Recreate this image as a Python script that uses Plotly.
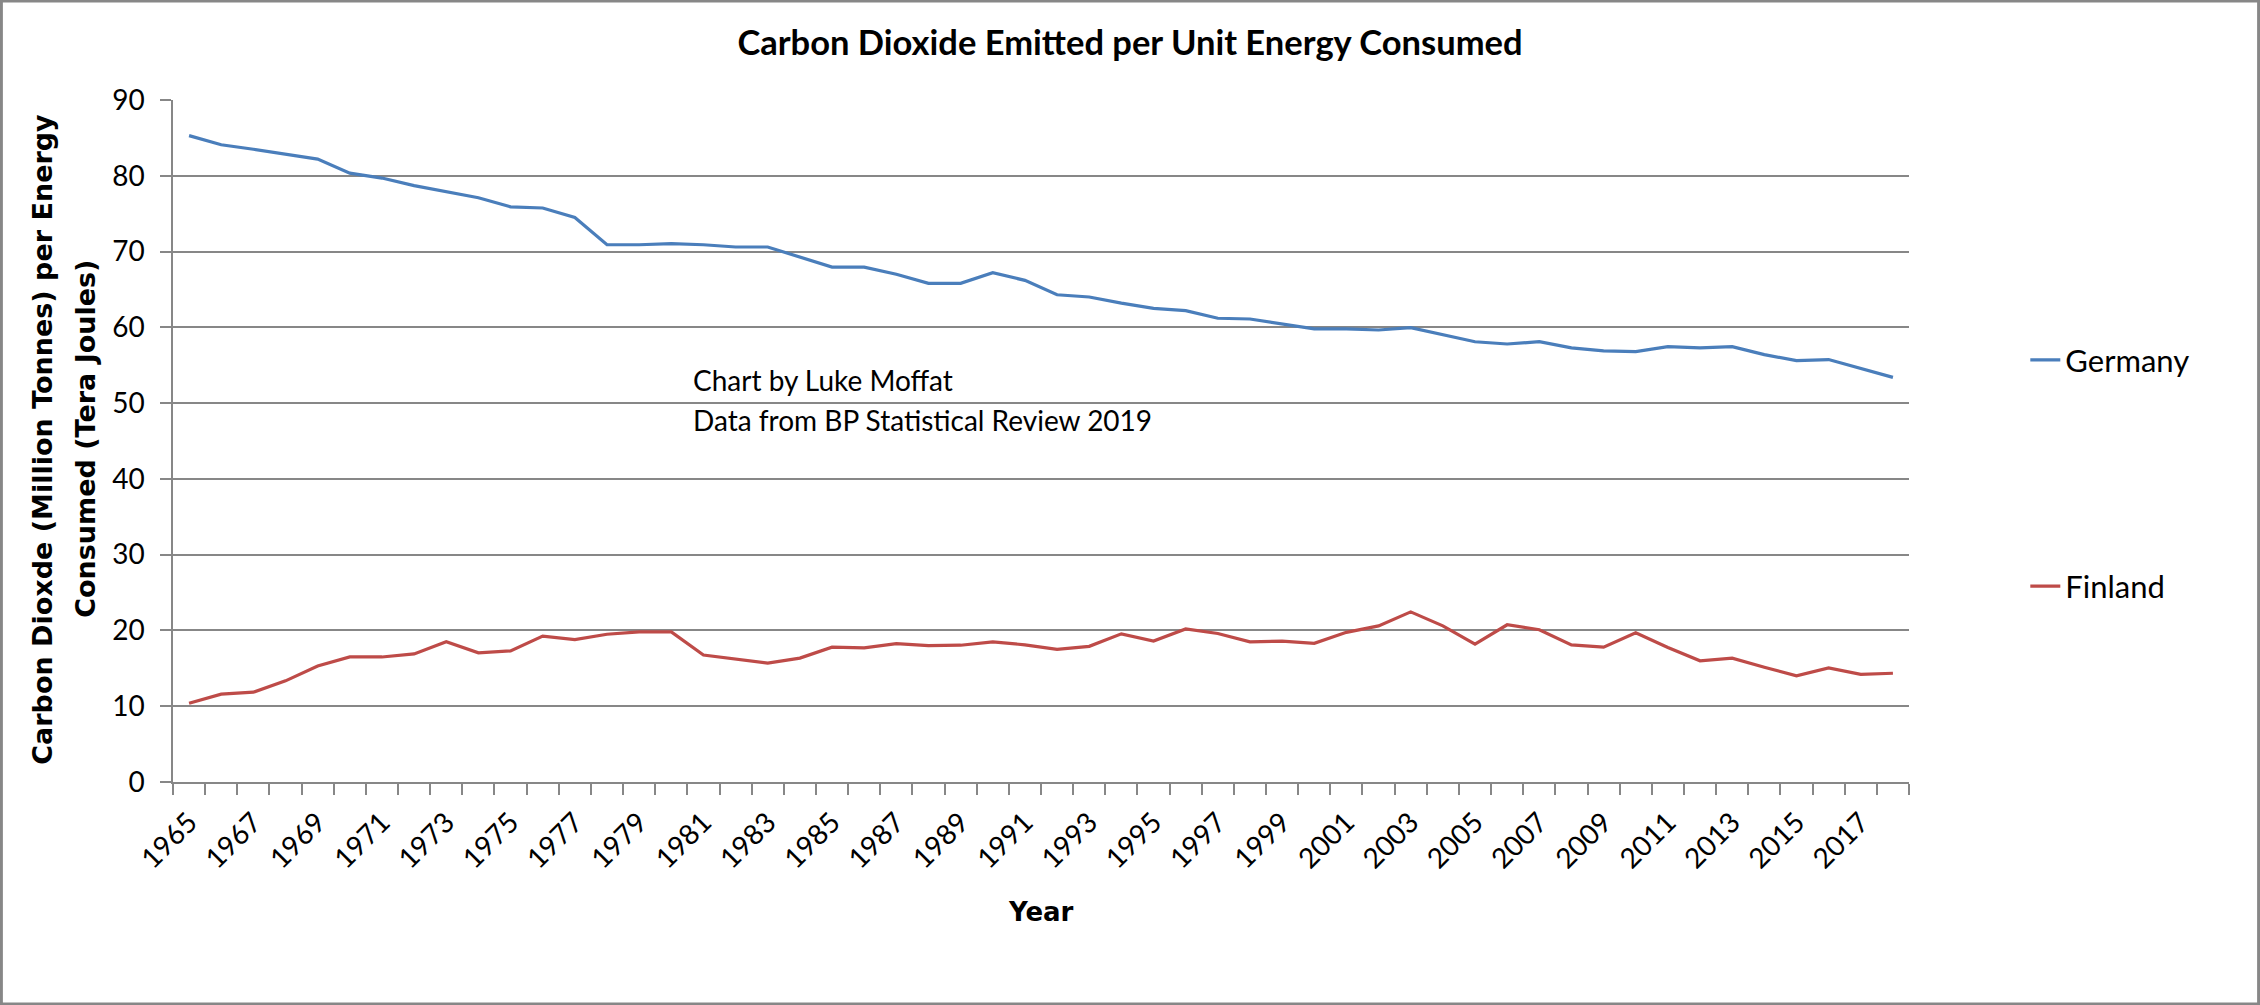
# -*- coding: utf-8 -*-
import plotly.graph_objects as go

years = [1965, 1966, 1967, 1968, 1969, 1970, 1971, 1972, 1973, 1974,
         1975, 1976, 1977, 1978, 1979, 1980, 1981, 1982, 1983, 1984,
         1985, 1986, 1987, 1988, 1989, 1990, 1991, 1992, 1993, 1994,
         1995, 1996, 1997, 1998, 1999, 2000, 2001, 2002, 2003, 2004,
         2005, 2006, 2007, 2008, 2009, 2010, 2011, 2012, 2013, 2014,
         2015, 2016, 2017, 2018]

germany = [85.3, 84.1, 83.5, 82.8, 82.2, 80.35, 79.7, 78.7, 77.85, 77.1,
           75.9, 75.75, 74.5, 70.9, 70.9, 71.05, 70.9, 70.6, 70.6, 69.3,
           67.95, 67.95, 67.0, 65.8, 65.8, 67.2, 66.2, 64.3, 64.0, 63.2,
           62.5, 62.2, 61.2, 61.1, 60.4, 59.8, 59.8, 59.65, 59.95, 59.0,
           58.1, 57.8, 58.1, 57.3, 56.9, 56.8, 57.45, 57.3, 57.45, 56.4,
           55.6, 55.75, 54.55, 53.4]

finland = [10.4, 11.6, 11.85, 13.35, 15.3, 16.5, 16.5, 16.9, 18.5, 17.05,
           17.3, 19.25, 18.8, 19.5, 19.8, 19.8, 16.75, 16.25, 15.7, 16.35,
           17.8, 17.7, 18.25, 18.0, 18.05, 18.5, 18.1, 17.5, 17.9, 19.55,
           18.6, 20.2, 19.6, 18.5, 18.6, 18.3, 19.75, 20.6, 22.45, 20.6,
           18.2, 20.75, 20.1, 18.1, 17.8, 19.7, 17.75, 16.0, 16.35, 15.15,
           14.0, 15.05, 14.2, 14.35]

title_text = 'Carbon Dioxide Emitted per Unit Energy Consumed'
y_title_lines = ['Carbon Dioxde (Million Tonnes) per Energy', 'Consumed (Tera Joules)']
x_title = 'Year'
credit_lines = ['Chart by Luke Moffat', 'Data from BP Statistical Review 2019']

GRID = '#878787'
BODY_FONT = 'Lato, Calibri, sans-serif'
AXIS_FONT = 'DejaVu Sans, Verdana, sans-serif'


def main():
    fig = go.Figure()
    fig.add_trace(go.Scatter(x=years, y=germany, name='Germany', mode='lines',
                             line=dict(color='#4A7EBB', width=3.2), legendgroup='g1'))
    fig.add_trace(go.Scatter(x=years, y=finland, name='Finland', mode='lines',
                             line=dict(color='#BE4B48', width=3.2), legendgroup='g2'))

    fig.update_layout(
        width=2260, height=1005,
        margin=dict(l=173, r=351, t=100, b=223),
        paper_bgcolor='white', plot_bgcolor='white',
        font=dict(family=BODY_FONT, size=28, color='black'),
        title=dict(text='<b>%s</b>' % title_text, x=0.5, xref='container', xanchor='center',
                   y=0.957, yref='container', yanchor='middle',
                   font=dict(family=BODY_FONT, size=34.5, color='black')),
        legend=dict(x=1.067, y=0.658, xanchor='left', yanchor='top',
                    tracegroupgap=183, font=dict(size=31), bgcolor='rgba(0,0,0,0)'),
        showlegend=True,
    )

    fig.update_xaxes(
        range=[1964.5, 2018.5], tickmode='linear', tick0=1965, dtick=2,
        tickangle=-45, ticks='outside', ticklen=11, tickcolor='rgba(0,0,0,0)',
        tickfont=dict(family=BODY_FONT, size=28),
        showgrid=False, zeroline=False,
        showline=True, linecolor=GRID, linewidth=1.5,
        minor=dict(tick0=1964.5, dtick=1, ticks='outside', ticklen=11,
                   tickcolor=GRID, tickwidth=1.5, showgrid=False),
    )
    fig.update_yaxes(
        range=[0, 90], tickmode='linear', tick0=0, dtick=10,
        ticks='outside', ticklen=11, tickcolor=GRID, tickwidth=1.5,
        ticklabelstandoff=10, tickfont=dict(family=BODY_FONT, size=28),
        showgrid=True, gridcolor=GRID, gridwidth=1.5, zeroline=False,
        showline=True, linecolor=GRID, linewidth=1.5,
    )

    # y title: two rotated lines, x title and credit text
    for i, line in enumerate(y_title_lines):
        fig.add_annotation(text='<b>%s</b>' % line, textangle=-90, xref='paper', yref='paper',
                           x=-0.075 + i * 0.0248, y=0.503, xanchor='center', yanchor='middle',
                           showarrow=False, font=dict(family=AXIS_FONT, size=27, color='black'))
    fig.add_annotation(text='<b>%s</b>' % x_title, xref='paper', yref='paper',
                       x=0.5, y=-0.19, xanchor='center', yanchor='middle', showarrow=False,
                       font=dict(family=AXIS_FONT, size=26, color='black'))
    for i, line in enumerate(credit_lines):
        fig.add_annotation(text=line, xref='paper', yref='paper',
                           x=0.2984, y=0.589 - i * 0.058, xanchor='left', yanchor='middle',
                           showarrow=False, font=dict(family=BODY_FONT, size=28, color='black'))

    # outer chart border
    fig.add_shape(type='rect', xref='paper', yref='paper',
                  x0=-173 / 1736 + 0.0008, x1=2087 / 1736 - 0.0008,
                  y0=-223 / 682 + 0.0015, y1=782 / 682 - 0.0015,
                  line=dict(color=GRID, width=3), layer='below')

    fig.write_html('out.html', config={'displayModeBar': False},
                   post_script="document.body.style.margin='0';")


if __name__ == '__main__':
    main()
